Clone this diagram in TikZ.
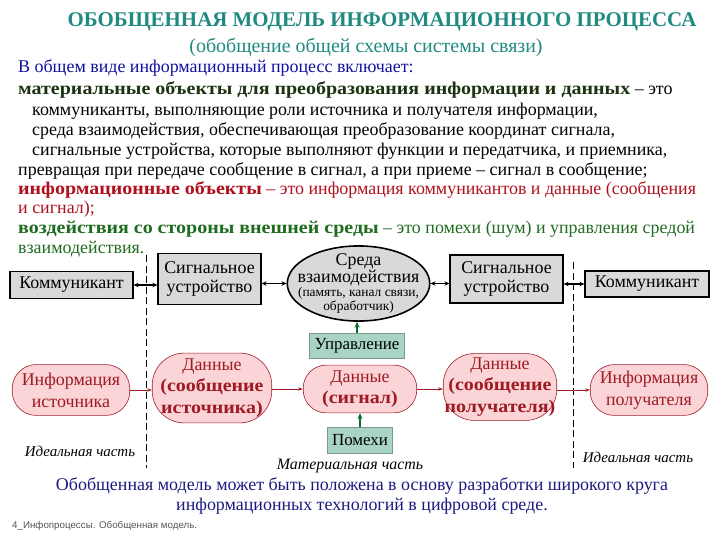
\documentclass[tikz,border=0pt]{standalone}
\usepackage{fontspec}
\usepackage{graphicx}
\setmainfont{Liberation Serif}
\newfontfamily\footfont{Liberation Sans}
\usetikzlibrary{arrows.meta,shapes.geometric}
\definecolor{titleteal}{HTML}{1F8A80}
\definecolor{introblue}{HTML}{1010A0}
\definecolor{matgreen}{HTML}{1C3311}
\definecolor{infored}{HTML}{B0101E}
\definecolor{envgreen}{HTML}{1F6B1F}
\definecolor{boxgray}{HTML}{D9D9D9}
\definecolor{pinkfill}{HTML}{FAD4D6}
\definecolor{pinkdraw}{HTML}{A0202A}
\definecolor{pinktext}{HTML}{9E1B24}
\definecolor{inffill}{HTML}{A9D3C4}
\definecolor{infdraw}{HTML}{7A9A90}
\definecolor{ctrlgreen}{HTML}{0B6B2B}
\definecolor{navytext}{HTML}{1A1A80}
\definecolor{footgray}{HTML}{555555}
\newcommand{\widebf}[1]{\scalebox{1.115}[1]{\bfseries #1}}

\begin{document}
\begin{tikzpicture}[x=1bp,y=-1bp,
  grayblock/.style={draw=black,line width=1.6pt,fill=boxgray,inner sep=0pt,align=center,
    font=\fontsize{18}{20}\selectfont},
  pinkblock/.style={rounded corners=24bp,draw=pinkdraw,line width=0.6pt,fill=pinkfill,
    text=pinktext,inner sep=0pt,align=center,font=\fontsize{18}{22}\selectfont},
  influence/.style={draw=infdraw,line width=0.8pt,fill=inffill,inner sep=0pt,
    font=\fontsize{17}{18}\selectfont},
  linkarrow/.style={{Stealth[length=5pt,width=4.5pt]}-{Stealth[length=5pt,width=4.5pt]},line width=1.4pt},
  dataarrow/.style={-{Stealth[length=5pt,width=3.5pt]},draw=pinkdraw,line width=1pt},
  ctrlarrow/.style={-{Stealth[length=6pt,width=5pt]},draw=ctrlgreen,line width=1.8pt},
  boundary/.style={dash pattern=on 7bp off 3.5bp,line width=0.7pt},
  bodyline/.style={anchor=base west,inner sep=0pt,font=\fontsize{18}{20}\selectfont},
  partlabel/.style={inner sep=0pt,font=\fontsize{15}{16}\selectfont\itshape},
]
\useasboundingbox (0,0) rectangle (720,540);

% heading
\node[font=\fontsize{21}{22}\selectfont\bfseries,text=titleteal] (title) at (382,22)
  {ОБОБЩЕННАЯ МОДЕЛЬ ИНФОРМАЦИОННОГО ПРОЦЕССА};
\node[font=\fontsize{20}{22}\selectfont,text=titleteal] (subtitle) at (366,47)
  {(обобщение общей схемы системы связи)};

% text block
\node[bodyline,text=introblue] (intro) at (18,73) {В общем виде информационный процесс включает:};
\node[bodyline] (matobj) at (18,95) {\textcolor{matgreen}{\widebf{материальные объекты для преобразования информации и данных}} – это};
\node[bodyline] (matA) at (32,116) {коммуниканты, выполняющие роли источника и получателя информации,};
\node[bodyline] (matB) at (32,136) {среда взаимодействия, обеспечивающая преобразование координат сигнала,};
\node[bodyline] (matC) at (32,156) {сигнальные устройства, которые выполняют функции и передатчика, и приемника,};
\node[bodyline] (matD) at (18,176) {превращая при передаче сообщение в сигнал, а при приеме – сигнал в сообщение;};
\node[bodyline,text=infored] (infobj) at (18,195) {\widebf{информационные объекты} – это информация коммуникантов и данные (сообщения};
\node[bodyline,text=infored] (infobjB) at (18,214) {и сигнал);};
\node[bodyline,text=envgreen] (envobj) at (18,234) {\widebf{воздействия со стороны внешней среды} – это помехи (шум) и управления средой};
\node[bodyline,text=envgreen] (envobjB) at (18,254) {взаимодействия.};

% boundaries between ideal and material parts
\coordinate (bndLtop) at (146,255);
\coordinate (bndLbot) at (146,468);
\coordinate (bndRtop) at (573,262);
\coordinate (bndRbot) at (573,468);
\draw[boundary] (bndLtop) -- (bndLbot);
\draw[boundary] (bndRtop) -- (bndRbot);

% upper row
\node[grayblock,minimum width=123,minimum height=27] (komL) at (71.5,285) {Коммуникант};
\node[grayblock,minimum width=103,minimum height=51] (sigL) at (209.5,279) {Сигнальное\\устройство};
\node[ellipse,draw=black,line width=1.6pt,fill=boxgray,inner xsep=-11bp,inner ysep=-3bp,align=center,
  minimum width=143,minimum height=67] (sreda) at (358.5,283.5)
  {\fontsize{18}{17}\selectfont Среда\\\fontsize{18}{17}\selectfont взаимодействия\\
   \fontsize{13.5}{19}\selectfont (память, канал связи,\\\fontsize{13.5}{15}\selectfont обработчик)};
\node[grayblock,minimum width=113,minimum height=48] (sigR) at (506.5,279) {Сигнальное\\устройство};
\node[grayblock,minimum width=124,minimum height=26] (komR) at (647,284) {Коммуникант};

\draw[linkarrow] (komL.east) -- (komL.east -| sigL.west);
\draw[linkarrow] (sigL.east |- sreda.west) -- (sreda.west);
\draw[linkarrow] (sreda.east) -- (sreda.east -| sigR.west);
\draw[linkarrow] (sigR.east |- komR.west) -- (komR.west);

\node[influence,minimum width=96,minimum height=25] (uprav) at (357,345.5) {Управление};
\draw[ctrlarrow] (uprav.north) -- (uprav.north |- sreda.south);

% lower row
\node[pinkblock,minimum width=118,minimum height=51] (infS) at (71,390) {Информация\\источника};
\node[pinkblock,rounded corners=32bp,minimum width=120,minimum height=70] (datS) at (212,388) {Данные\\\widebf{(сообщение}\\\widebf{источника)}};
\node[pinkblock,rounded corners=23bp,minimum width=114,minimum height=48] (datSig) at (360,389) {Данные\\\widebf{(сигнал)}};
\node[pinkblock,rounded corners=31bp,minimum width=114,minimum height=67] (datR) at (500,387) {Данные\\\widebf{(сообщение}\\\widebf{получателя)}};
\node[pinkblock,minimum width=118,minimum height=51] (infR) at (649,390) {Информация\\получателя};

\draw[dataarrow] (infS.east) -- (infS.east -| datS.west);
\draw[dataarrow] (datS.east |- datSig.west) -- (datSig.west);
\draw[dataarrow] (datSig.east) -- (datSig.east -| datR.west);
\draw[dataarrow] (datR.east |- infR.west) -- (infR.west);

\node[influence,minimum width=66,minimum height=26] (pomekhi) at (360,440) {Помехи};
\draw[ctrlarrow] (pomekhi.north) -- (datSig.south);

\node[partlabel] (idealL) at (80,451) {Идеальная часть};
\node[partlabel,font=\fontsize{16}{17}\selectfont\itshape] (material) at (350,466) {Материальная часть};
\node[partlabel] (idealR) at (638,457) {Идеальная часть};

% conclusion
\node[align=center,text=navytext,font=\fontsize{18}{20}\selectfont] (summary) at (362,496)
  {Обобщенная модель может быть положена в основу разработки широкого круга\\
   информационных технологий в цифровой среде.};
\node[anchor=west,inner sep=0pt,text=footgray,font=\footfont\fontsize{9.8}{11}\selectfont] (footer) at (12,526)
  {4\_Инфопроцессы. Обобщенная модель.};
\end{tikzpicture}
\end{document}
